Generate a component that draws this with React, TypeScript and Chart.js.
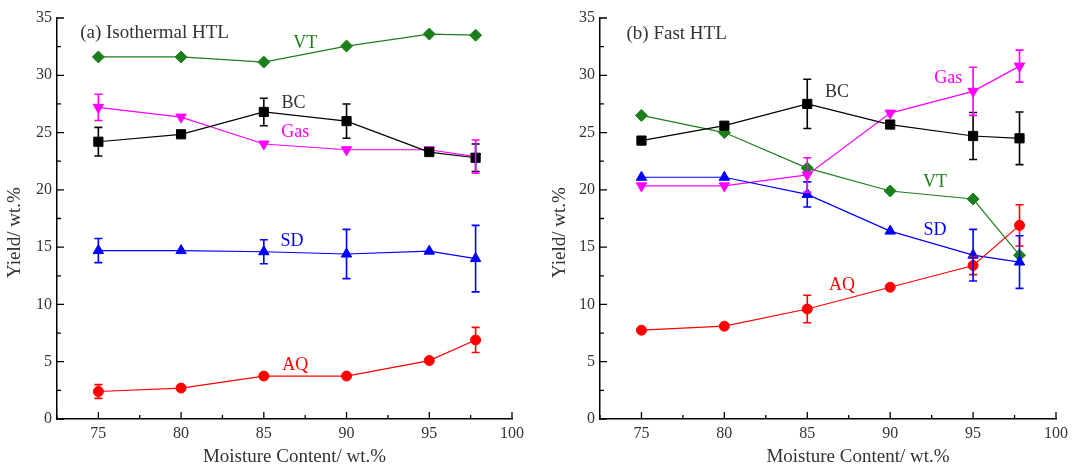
import React, { useEffect, useRef } from 'react';
import { Chart, registerables } from 'chart.js';
Chart.register(...registerables);

const moisture = [75, 80, 85, 90, 95, 97.8];
const xTickValues = [75, 80, 85, 90, 95, 100];
const yTickValues = [0, 5, 10, 15, 20, 25, 30, 35];

// (a) Isothermal HTL
const isoVT = [31.6, 31.6, 31.15, 32.55, 33.6, 33.5];
const isoBC = [24.2, 24.85, 26.8, 26.0, 23.3, 22.8];
const isoBCErr = [1.25, null, 1.2, 1.5, null, 1.2];
const isoGas = [27.2, 26.35, 24.0, 23.5, 23.5, 22.9];
const isoGasErr = [1.15, null, null, null, null, 1.45];
const isoSD = [14.7, 14.7, 14.6, 14.4, 14.65, 14.0];
const isoSDErr = [1.05, null, 1.05, 2.15, null, 2.9];
const isoAQ = [2.4, 2.7, 3.75, 3.75, 5.1, 6.9];
const isoAQErr = [0.6, null, null, null, null, 1.1];

// (b) Fast HTL
const fastVT = [26.5, 25.0, 21.9, 19.9, 19.2, 14.3];
const fastBC = [24.3, 25.6, 27.5, 25.7, 24.7, 24.5];
const fastBCErr = [null, null, 2.15, null, 2.05, 2.3];
const fastGas = [20.35, 20.35, 21.3, 26.7, 28.6, 30.8];
const fastGasErr = [null, null, 1.5, null, 2.1, 1.4];
const fastSD = [21.1, 21.1, 19.6, 16.4, 14.3, 13.7];
const fastSDErr = [null, null, 1.1, null, 2.25, 2.3];
const fastAQ = [7.75, 8.1, 9.6, 11.5, 13.4, 16.9];
const fastAQErr = [null, null, 1.2, null, 0.8, 1.8];

const xTitle = 'Moisture Content/ wt.%';
const yTitle = 'Yield/ wt.%';

const GREEN = '#1c7f1c';
const BLACK = '#000000';
const MAGENTA = '#ff00ff';
const BLUE = '#0000ff';
const RED = '#ff0000';
const TEXT = '#333333';
const FONT = '"Liberation Serif", "DejaVu Serif", serif';

const isoLabels = [
  { text: '(a) Isothermal HTL', x: 73.9, y: 33.7, color: TEXT, align: 'left', size: 19 },
  { text: 'VT', x: 87.5, y: 32.8, color: GREEN, align: 'center', size: 18 },
  { text: 'BC', x: 86.8, y: 27.6, color: TEXT, align: 'center', size: 18 },
  { text: 'Gas', x: 86.9, y: 25.0, color: MAGENTA, align: 'center', size: 18 },
  { text: 'SD', x: 86.7, y: 15.5, color: BLUE, align: 'center', size: 18 },
  { text: 'AQ', x: 86.9, y: 4.7, color: RED, align: 'center', size: 18 },
];

const fastLabels = [
  { text: '(b) Fast HTL', x: 74.1, y: 33.6, color: TEXT, align: 'left', size: 19 },
  { text: 'BC', x: 86.8, y: 28.5, color: TEXT, align: 'center', size: 18 },
  { text: 'Gas', x: 93.5, y: 29.7, color: MAGENTA, align: 'center', size: 18 },
  { text: 'VT', x: 92.7, y: 20.7, color: GREEN, align: 'center', size: 18 },
  { text: 'SD', x: 92.7, y: 16.5, color: BLUE, align: 'center', size: 18 },
  { text: 'AQ', x: 87.1, y: 11.7, color: RED, align: 'center', size: 18 },
];

const errorBarPlugin = {
  id: 'errorBars',
  afterDatasetsDraw(chart: any) {
    const ctx = chart.ctx;
    const xs = chart.scales.x;
    const ys = chart.scales.y;
    chart.data.datasets.forEach((ds: any) => {
      if (!ds.errors) return;
      ctx.save();
      ctx.strokeStyle = ds.borderColor;
      ctx.lineWidth = 1.6;
      ds.data.forEach((p: any, i: number) => {
        const e = ds.errors[i];
        if (e == null) return;
        const px = xs.getPixelForValue(p.x);
        const top = ys.getPixelForValue(p.y + e);
        const bot = ys.getPixelForValue(p.y - e);
        ctx.beginPath();
        ctx.moveTo(px, top);
        ctx.lineTo(px, bot);
        ctx.moveTo(px - 4, top);
        ctx.lineTo(px + 4, top);
        ctx.moveTo(px - 4, bot);
        ctx.lineTo(px + 4, bot);
        ctx.stroke();
      });
      ctx.restore();
    });
  },
};

const innerTicksPlugin = {
  id: 'innerTicks',
  afterDraw(chart: any) {
    const ctx = chart.ctx;
    const xs = chart.scales.x;
    const ys = chart.scales.y;
    const area = chart.chartArea;
    ctx.save();
    ctx.strokeStyle = '#000';
    ctx.lineWidth = 1.3;
    ctx.beginPath();
    for (let i = 0; i < yTickValues.length; i++) {
      const v = yTickValues[i];
      const py = ys.getPixelForValue(v);
      ctx.moveTo(area.left, py);
      ctx.lineTo(area.left + 7, py);
      if (i < yTickValues.length - 1) {
        const mv = (v + yTickValues[i + 1]) / 2;
        const my = ys.getPixelForValue(mv);
        ctx.moveTo(area.left, my);
        ctx.lineTo(area.left + 4, my);
      }
    }
    for (let i = 0; i < xTickValues.length; i++) {
      const v = xTickValues[i];
      const px = xs.getPixelForValue(v);
      ctx.moveTo(px, area.bottom);
      ctx.lineTo(px, area.bottom - 7);
      const mv = v - (xTickValues[1] - xTickValues[0]) / 2;
      if (mv >= xs.min) {
        const mx = xs.getPixelForValue(mv);
        ctx.moveTo(mx, area.bottom);
        ctx.lineTo(mx, area.bottom - 4);
      }
    }
    ctx.stroke();
    ctx.restore();
  },
};

const textLabelsPlugin = {
  id: 'textLabels',
  afterDatasetsDraw(chart: any) {
    const opts = chart.options.plugins.textLabels || {};
    const labels = opts.items || [];
    const ctx = chart.ctx;
    const xs = chart.scales.x;
    const ys = chart.scales.y;
    const area = chart.chartArea;
    ctx.save();
    ctx.textBaseline = 'middle';
    labels.forEach((l: any) => {
      ctx.font = `${l.size}px ${FONT}`;
      ctx.fillStyle = l.color;
      ctx.textAlign = l.align;
      ctx.fillText(l.text, xs.getPixelForValue(l.x), ys.getPixelForValue(l.y));
    });
    // axis titles
    ctx.fillStyle = TEXT;
    ctx.font = `19px ${FONT}`;
    ctx.textAlign = 'center';
    ctx.fillText(xTitle, (area.left + area.right) / 2 + (opts.xTitleShift || 0), 457);
    ctx.translate(15, chart.height / 2);
    ctx.rotate(-Math.PI / 2);
    ctx.fillText(yTitle, 0, 0);
    ctx.restore();
  },
};

function makeDataset(label: string, values: number[], errors: any, color: string, pointStyle: string, radius: number, rotation = 0) {
  return {
    label,
    data: moisture.map((x, i) => ({ x, y: values[i] })),
    errors,
    borderColor: color,
    backgroundColor: color,
    borderWidth: 1.2,
    pointStyle,
    pointRadius: radius,
    pointRotation: rotation,
    pointBorderWidth: 1,
    showLine: true,
    tension: 0,
  };
}

type PanelProps = { series: any[]; labels: any[]; yAxisWidth: number; rightPad: number; xTitleShift: number };

function Panel({ series, labels, yAxisWidth, rightPad, xTitleShift }: PanelProps) {
  const ref = useRef<HTMLCanvasElement>(null);
  useEffect(() => {
    if (!ref.current) return;
    const chart = new Chart(ref.current, {
      type: 'line',
      data: { datasets: series },
      options: {
        animation: false,
        responsive: false,
        devicePixelRatio: 1,
        layout: { padding: { top: 18, right: rightPad, left: 0, bottom: 0 } },
        plugins: {
          legend: { display: false },
          tooltip: { enabled: false },
          textLabels: { items: labels, xTitleShift },
        } as any,
        scales: {
          x: {
            type: 'linear',
            min: 72.5,
            max: 100,
            afterBuildTicks: (s: any) => { s.ticks = xTickValues.map((v) => ({ value: v })); },
            afterFit: (s: any) => { s.height = 46; },
            grid: { display: true, drawOnChartArea: false, drawTicks: false },
            border: { display: true, color: '#000', width: 1.5 },
            ticks: { padding: 5, color: TEXT, font: { family: FONT, size: 16 }, maxRotation: 0 },
          },
          y: {
            type: 'linear',
            min: 0,
            max: 35,
            afterBuildTicks: (s: any) => { s.ticks = yTickValues.map((v) => ({ value: v })); },
            afterFit: (s: any) => { s.width = yAxisWidth; },
            grid: { display: true, drawOnChartArea: false, drawTicks: false },
            border: { display: true, color: '#000', width: 1.5 },
            ticks: { padding: 5, color: TEXT, font: { family: FONT, size: 16 } },
          },
        },
      } as any,
      plugins: [errorBarPlugin, innerTicksPlugin, textLabelsPlugin],
    });
    return () => chart.destroy();
  }, []);
  return <canvas ref={ref} width={545} height={465} style={{ width: 545, height: 465, display: 'block' }} />;
}

export default function App() {
  const isoSeries = [
    makeDataset('AQ', isoAQ, isoAQErr, RED, 'circle', 5),
    makeDataset('SD', isoSD, isoSDErr, BLUE, 'triangle', 6),
    makeDataset('BC', isoBC, isoBCErr, BLACK, 'rect', 6.5),
    makeDataset('Gas', isoGas, isoGasErr, MAGENTA, 'triangle', 6, 180),
    makeDataset('VT', isoVT, null, GREEN, 'rectRot', 6),
  ];
  const fastSeries = [
    makeDataset('AQ', fastAQ, fastAQErr, RED, 'circle', 5),
    makeDataset('SD', fastSD, fastSDErr, BLUE, 'triangle', 6),
    makeDataset('BC', fastBC, fastBCErr, BLACK, 'rect', 6.5),
    makeDataset('Gas', fastGas, fastGasErr, MAGENTA, 'triangle', 6, 180),
    makeDataset('VT', fastVT, null, GREEN, 'rectRot', 6),
  ];
  return (
    <div style={{ position: 'fixed', left: 0, top: 0, width: 1090, height: 465, display: 'flex', background: '#fff' }}>
      <Panel series={isoSeries} labels={isoLabels} yAxisWidth={57} rightPad={33} xTitleShift={10} />
      <Panel series={fastSeries} labels={fastLabels} yAxisWidth={55} rightPad={34} xTitleShift={30} />
    </div>
  );
}
